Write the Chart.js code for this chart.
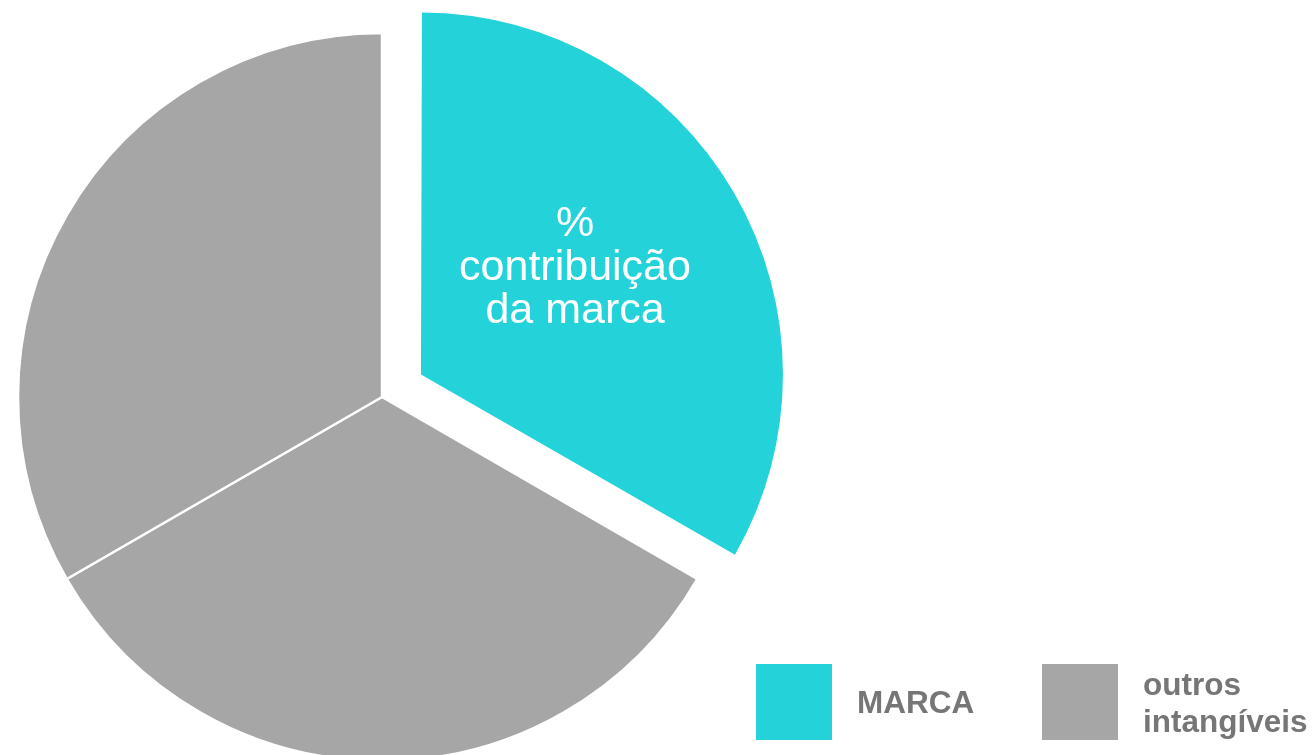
<!DOCTYPE html>
<html>
<head>
<meta charset="utf-8">
<script src="https://cdn.jsdelivr.net/npm/chart.js@4.4.1/dist/chart.umd.min.js"></script>
<style>
  html, body { margin: 0; padding: 0; background: #ffffff; }
  #wrap { position: relative; width: 1313px; height: 755px; }
</style>
</head>
<body>
<div id="wrap"><canvas id="c"></canvas></div>
<script>
// Shares of intangible value: brand slice plus the remaining intangibles
const categories = ['MARCA', 'outros intangíveis', 'outros intangíveis'];
const shares = [33.3, 33.3, 33.3];
const sliceColors = ['#24D3D9', '#A6A6A6', '#A6A6A6'];
const legendLabels = [['MARCA'], ['outros', 'intangíveis']];
const legendColors = ['#24D3D9', '#A6A6A6'];
const sliceLabel = ['%', 'contribuição', 'da marca'];

const FONT = '"Liberation Sans", Arial, Helvetica, sans-serif';
const EXPLODE = 180;

// Chart.js enlarges an offset arc a little; keep the exploded slice at the common radius
const keepRadius = {
  id: 'keepRadius',
  afterDatasetUpdate(chart, args) {
    args.meta.data.forEach((arc) => {
      const off = (arc.options && arc.options.offset) || 0;
      if (!off) return;
      const circ = arc.endAngle - arc.startAngle;
      const grow = (off / 4) * (1 - Math.sin(Math.min(Math.PI, circ)));
      arc.outerRadius -= grow + 2;
    });
  }
};

// Text on the brand slice and the two-entry legend in the lower right
const annotations = {
  id: 'annotations',
  afterDraw(chart) {
    const ctx = chart.ctx;
    ctx.save();
    // label inside the exploded slice
    ctx.fillStyle = '#FFFFFF';
    ctx.font = '43px ' + FONT;
    ctx.textAlign = 'center';
    ctx.textBaseline = 'alphabetic';
    const lx = 575, baselines = [236, 280, 323];
    sliceLabel.forEach((t, i) => ctx.fillText(t, lx, baselines[i]));

    // legend
    const boxes = [{x: 756, y: 664}, {x: 1042, y: 664}];
    const size = 76;
    ctx.font = 'bold 31.5px ' + FONT;
    ctx.textAlign = 'left';
    legendLabels.forEach((lines, i) => {
      const b = boxes[i];
      ctx.fillStyle = legendColors[i];
      ctx.fillRect(b.x, b.y, size, size);
      ctx.fillStyle = '#767676';
      const tx = b.x + size + 25;
      const lh = 37;
      const first = b.y + size / 2 + 11 - (lines.length - 1) * lh / 2;
      lines.forEach((t, j) => ctx.fillText(t, tx, first + j * lh));
    });
    ctx.restore();
  }
};

new Chart(document.getElementById('c'), {
  type: 'pie',
  data: {
    labels: categories,
    datasets: [{
      data: shares,
      backgroundColor: sliceColors,
      borderColor: '#FFFFFF',
      borderWidth: [0, 2.5, 2.5],
      offset: [EXPLODE, 0, 0],
      clip: false
    }]
  },
  options: {
    responsive: true,
    maintainAspectRatio: false,
    animation: false,
    events: [],
    radius: 364,
    layout: { padding: { left: 0, right: 549, top: 39, bottom: 0 } },
    plugins: {
      legend: { display: false },
      tooltip: { enabled: false }
    }
  },
  plugins: [keepRadius, annotations]
});
</script>
</body>
</html>
